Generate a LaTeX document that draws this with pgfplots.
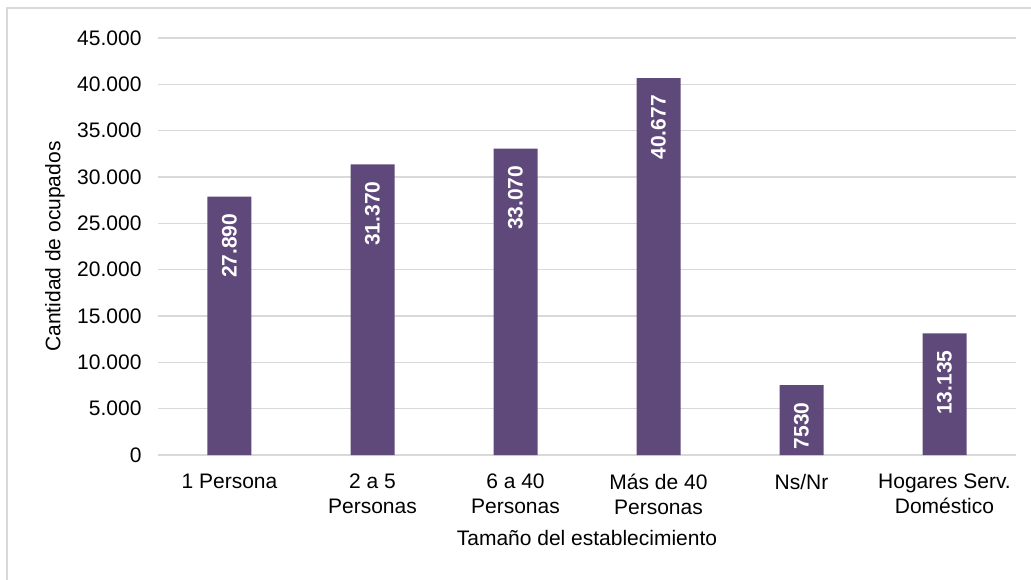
\documentclass[border=0pt]{standalone}
\usepackage{pgfplots}
\pgfplotsset{compat=1.18}
\usepackage{fontspec}
\setmainfont{Liberation Sans}

\definecolor{barpurple}{HTML}{5F497A}
\definecolor{gridgray}{HTML}{D9D9D9}

\begin{document}
\begin{tikzpicture}[font=\fontsize{21}{25}\selectfont]
\useasboundingbox (-158pt,-124pt) rectangle (873pt,455pt);
\draw[gridgray, line width=2pt] (-151pt,-140pt) -- (-151pt,447pt) -- (890pt,447pt);
\begin{axis}[
    at={(0,0)}, anchor=south west,
    scale only axis,
    width=858pt,
    height=417pt,
    ybar,
    bar width=44pt,
    xmin=-0.5, xmax=5.5,
    ymin=0, ymax=45000,
    ytick={0,5000,...,45000},
    xtick=data,
    xticklabels={1 Persona, {2 a 5\\Personas}, {6 a 40\\Personas}, {Más de 40\\Personas}, Ns/Nr, {Hogares Serv.\\Doméstico}},
    x tick label style={align=center, yshift=-11pt},
    y tick label style={xshift=-13pt},
    /pgf/number format/.cd, 1000 sep={.}, assume math mode=true, /pgfplots/.cd,
    scaled y ticks=false,
    ymajorgrids,
    grid style={gridgray, line width=1.5pt},
    axis line style={draw=none},
    major tick style={draw=none},
    xlabel={Tamaño del establecimiento},
    ylabel={Cantidad de ocupados},
    xlabel style={at={(axis description cs:0.5,-0.218)}, anchor=base},
    ylabel style={at={(axis description cs:-0.12,0.5)}, anchor=center},
    point meta=explicit symbolic,
    nodes near coords,
    every node near coord/.append style={font=\fontsize{21}{25}\selectfont\bfseries, text=white, rotate=90, anchor=east, inner xsep=17pt},
]
\addplot[fill=barpurple, draw=none] table[x=x, y=y, meta=label] {
x y label
0 27890 27.890
1 31370 31.370
2 33070 33.070
3 40677 40.677
4 7530 7530
5 13135 13.135
};
\end{axis}
\end{tikzpicture}
\end{document}
